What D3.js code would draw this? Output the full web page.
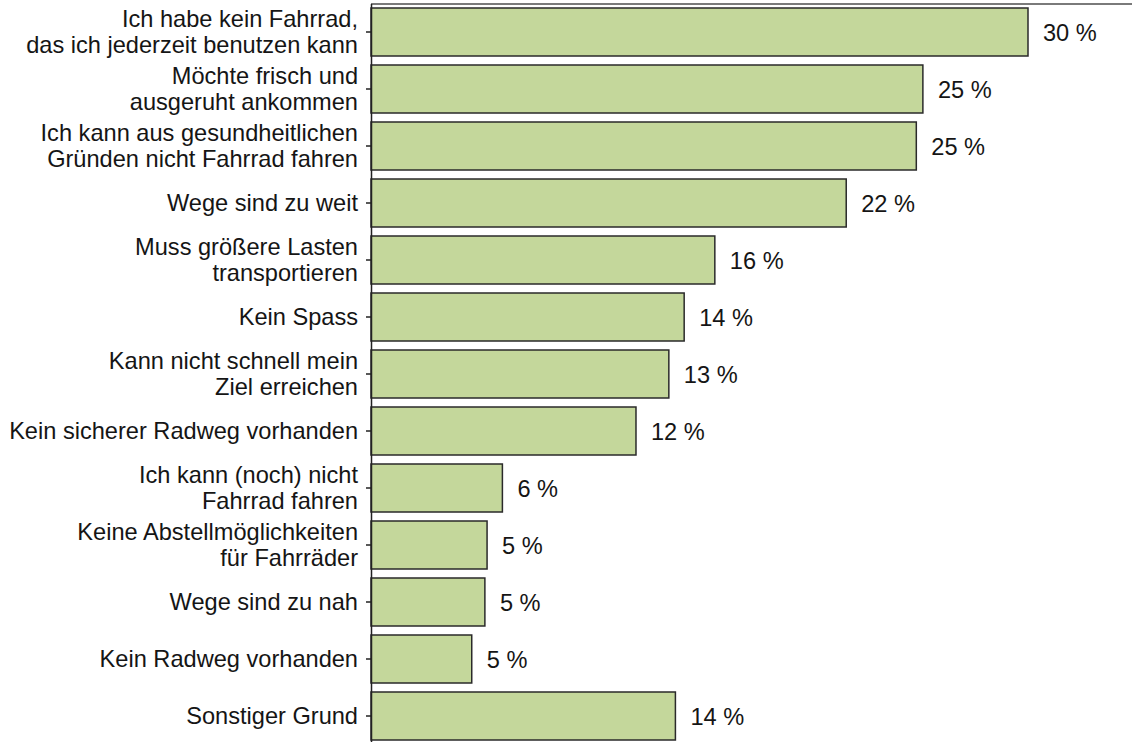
<!DOCTYPE html>
<html>
<head>
<meta charset="utf-8">
<script src="https://cdn.jsdelivr.net/npm/d3@7"></script>
<style>
  body { margin: 0; background: #fff; }
  svg { display: block; font-family: "Liberation Sans", Arial, sans-serif; }
  .axis path, .axis line { stroke: #222; stroke-width: 1.5; }
  .axis text, .value-label { fill: #151515; font-size: 23.6px; }
</style>
</head>
<body>
<script>
// Reasons for not cycling (share of respondents, %)
let categories = [
    "Ich habe kein Fahrrad,|das ich jederzeit benutzen kann",
    "Möchte frisch und|ausgeruht ankommen",
    "Ich kann aus gesundheitlichen|Gründen nicht Fahrrad fahren",
    "Wege sind zu weit",
    "Muss größere Lasten|transportieren",
    "Kein Spass",
    "Kann nicht schnell mein|Ziel erreichen",
    "Kein sicherer Radweg vorhanden",
    "Ich kann (noch) nicht|Fahrrad fahren",
    "Keine Abstellmöglichkeiten|für Fahrräder",
    "Wege sind zu nah",
    "Kein Radweg vorhanden",
    "Sonstiger Grund"
];
let values = [30.0, 25.2, 24.9, 21.7, 15.7, 14.3, 13.6, 12.1, 6.0, 5.3, 5.2, 4.6, 13.9];
let valueLabels = ["30 %", "25 %", "25 %", "22 %", "16 %", "14 %", "13 %", "12 %", "6 %", "5 %", "5 %", "5 %", "14 %"];

let svgWidth = 1132;
let svgHeight = 742;

let svg = d3.select("body")
    .append("svg")
    .attr("width", svgWidth)
    .attr("height", svgHeight);

// Scales
let xScale = d3.scaleLinear()
    .domain([0, 30])
    .range([371, 1028]);

let yScale = d3.scaleBand()
    .domain(categories)
    .range([3.5, 3.5 + 57 * categories.length])
    .paddingInner(9 / 57)
    .paddingOuter(4.5 / 57);

// Top border of plot area
svg.append("line")
    .attr("x1", xScale(0))
    .attr("x2", svgWidth)
    .attr("y1", 4)
    .attr("y2", 4)
    .attr("stroke", "#7a7a7a")
    .attr("stroke-width", 2);

// Bars
svg.selectAll("rect.bar")
    .data(values)
    .enter()
    .append("rect")
    .attr("class", "bar")
    .attr("x", xScale(0))
    .attr("y", (d, i) => yScale(categories[i]))
    .attr("width", d => xScale(d) - xScale(0))
    .attr("height", yScale.bandwidth())
    .attr("fill", "#c4d79b")
    .attr("stroke", "#2a2a2a")
    .attr("stroke-width", 1.5);

// Value labels
svg.selectAll("text.value-label")
    .data(values)
    .enter()
    .append("text")
    .attr("class", "value-label")
    .attr("x", d => xScale(d) + 15)
    .attr("y", (d, i) => yScale(categories[i]) + yScale.bandwidth() / 2 + 9)
    .text((d, i) => valueLabels[i]);

// Category axis
let yAxis = d3.axisLeft(yScale)
    .tickSize(5)
    .tickSizeOuter(0)
    .tickPadding(8);

let axisGroup = svg.append("g")
    .attr("class", "axis")
    .attr("transform", `translate(${xScale(0)}, 0)`)
    .call(yAxis);

// Split multi-line category labels
axisGroup.selectAll(".tick text")
    .attr("dy", null)
    .each(function(label) {
        let lines = label.split("|");
        let el = d3.select(this).text(null);
        let startDy = 8 - (lines.length - 1) * 13;
        lines.forEach((line, k) => {
            el.append("tspan")
                .attr("x", -13)
                .attr("dy", k === 0 ? startDy : 26)
                .text(line);
        });
    });
axisGroup.attr("font-family", null).attr("font-size", null);
</script>
</body>
</html>
